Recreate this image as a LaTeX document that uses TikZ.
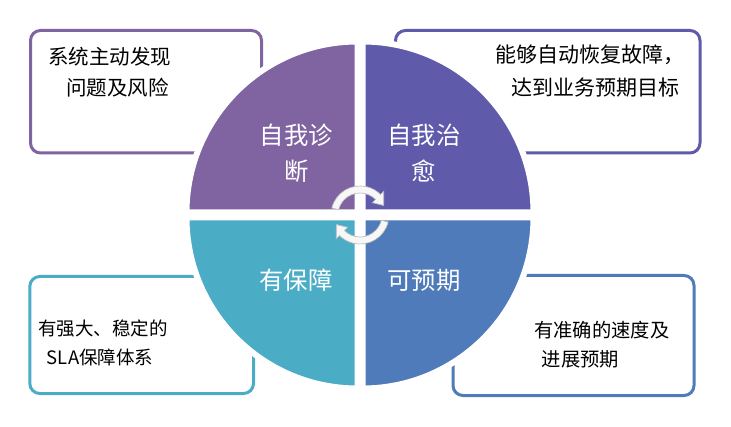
\documentclass[tikz,border=0pt]{standalone}
\usepackage{fontspec}
\newfontfamily\cjk{Noto Sans CJK SC}
\definecolor{diagpurple}{HTML}{8064A2}
\definecolor{healviolet}{HTML}{5F5AAA}
\definecolor{guardteal}{HTML}{4BACC6}
\definecolor{planblue}{HTML}{4F7BBB}
\tikzstyle{note box}=[draw, line width=3pt, rounded corners=10pt]
\tikzstyle{quarter}=[draw=white, line width=6pt]
\tikzstyle{cycle arrow}=[fill=black!3, draw=black!25, line width=0.7pt]
\tikzstyle{quarter label}=[text=white, anchor=base, inner sep=0pt, font=\cjk\fontsize{24.4}{30}\selectfont]
\tikzstyle{note text}=[anchor=base west, inner sep=0pt]

\begin{document}
\begin{tikzpicture}[x=1pt, y=1pt]
  \useasboundingbox (0,0) rectangle (731,426);
  \coordinate (hub) at (360,211);

  % boxes behind the wheel
  \draw[note box, diagpurple] (30.5,273) rectangle (261.5,395.5);
  \draw[note box, healviolet] (395.5,273) rectangle (700,395.5);
  \draw[note box, guardteal] (29.8,32.5) rectangle (253.5,149.5);
  \draw[note box, planblue] (453,30.5) rectangle (694,150.5);

  % the four quarters
  \filldraw[quarter, fill=diagpurple] (357.5,213.5) -- ++(-171,0) arc[start angle=180, end angle=90, radius=171] -- cycle;
  \filldraw[quarter, fill=healviolet] (362.5,213.5) -- ++(0,171) arc[start angle=90, end angle=0, radius=171] -- cycle;
  \filldraw[quarter, fill=guardteal] (357.5,208.5) -- ++(0,-171) arc[start angle=270, end angle=180, radius=171] -- cycle;
  \filldraw[quarter, fill=planblue] (362.5,208.5) -- ++(171,0) arc[start angle=0, end angle=-90, radius=171] -- cycle;

  % turning arrows
  \filldraw[cycle arrow] ([shift={(166:29)}]hub) arc[start angle=166, end angle=45, radius=29]
    -- ([shift={(45:33.5)}]hub) -- ([shift={(22:25.5)}]hub) -- ([shift={(45:17.5)}]hub)
    -- ([shift={(45:22)}]hub) arc[start angle=45, end angle=166, radius=22] -- cycle;
  \filldraw[cycle arrow] ([shift={(-14:29)}]hub) arc[start angle=-14, end angle=-135, radius=29]
    -- ([shift={(-135:33.5)}]hub) -- ([shift={(-158:25.5)}]hub) -- ([shift={(-135:17.5)}]hub)
    -- ([shift={(-135:22)}]hub) arc[start angle=-135, end angle=-14, radius=22] -- cycle;

  % quarter labels
  \node[quarter label] (diag1) at (296.5,281.7) {自我诊};
  \node[quarter label] (diag2) at (296.5,245) {断};
  \node[quarter label] (heal1) at (424,281.7) {自我治};
  \node[quarter label] (heal2) at (424,245) {愈};
  \node[quarter label] (guard) at (296,136.7) {有保障};
  \node[quarter label] (plan) at (424,136.7) {可预期};

  % box texts
  \node[note text, font=\cjk\fontsize{20.5}{24}\selectfont] (diagnote1) at (48,361.5) {系统主动发现};
  \node[note text, font=\cjk\fontsize{20.5}{24}\selectfont] (diagnote2) at (66,330.2) {问题及风险};
  \node[note text, font=\cjk\fontsize{21}{25}\selectfont] (healnote1) at (495,363) {能够自动恢复故障，};
  \node[note text, font=\cjk\fontsize{21}{25}\selectfont] (healnote2) at (511,330) {达到业务预期目标};
  \node[note text, font=\cjk\fontsize{18.5}{22}\selectfont] (guardnote1) at (38,91) {有强大、稳定的};
  \node[note text, font=\cjk\fontsize{18.5}{22}\selectfont] (guardnote2) at (46.7,62) {SLA保障体系};
  \node[note text, font=\cjk\fontsize{19.3}{23}\selectfont] (plannote1) at (534,88.6) {有准确的速度及};
  \node[note text, font=\cjk\fontsize{19.3}{23}\selectfont] (plannote2) at (541.7,59.6) {进展预期};
\end{tikzpicture}
\end{document}
